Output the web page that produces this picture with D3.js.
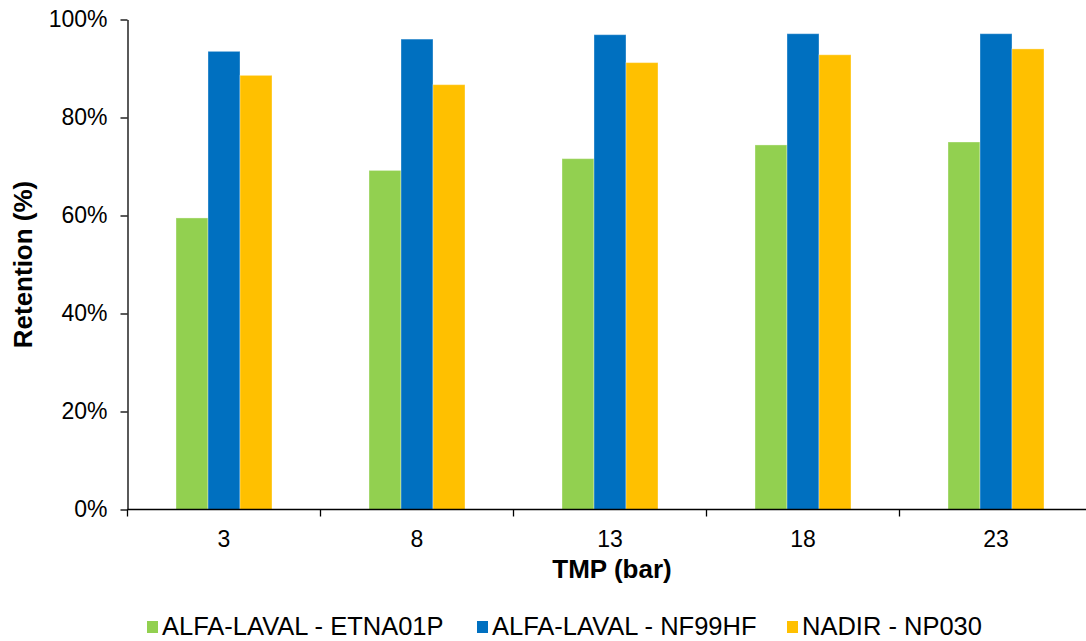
<!DOCTYPE html>
<html>
<head>
<meta charset="utf-8">
<script src="https://cdn.jsdelivr.net/npm/d3@7"></script>
<style>
  body { margin: 0; background: #fff; }
  svg { display: block; font-family: "Liberation Sans", Arial, sans-serif; }
</style>
</head>
<body>
<script>
// data
const tmp = ["3", "8", "13", "18", "23"];
const series = ["ALFA-LAVAL - ETNA01P", "ALFA-LAVAL - NF99HF", "NADIR - NP030"];
const etna01p = [0.595, 0.692, 0.716, 0.744, 0.750];
const nf99hf = [0.935, 0.960, 0.969, 0.971, 0.971];
const np030 = [0.886, 0.867, 0.912, 0.928, 0.940];
const yTicks = [0, 0.2, 0.4, 0.6, 0.8, 1.0];
const colors = ["#92D050", "#0070C0", "#FFC000"];

const values = [etna01p, nf99hf, np030];
const rows = tmp.map((t, i) => ({ tmp: t, vals: series.map((s, j) => ({ key: s, value: values[j][i] })) }));

const width = 1086;
const height = 641;
const marginLeft = 127.5;
const band = 193;
const y0 = 509.5;
const y1 = 19.5;

const svg = d3.select("body")
  .append("svg")
    .attr("width", width)
    .attr("height", height)
    .attr("viewBox", [0, 0, width, height]);

const x = d3.scaleBand()
    .domain(tmp)
    .range([marginLeft, marginLeft + band * tmp.length])
    .padding(0);

const barW = 32;
const xs = d3.scaleBand()
    .domain(series)
    .range([0, x.bandwidth()])
    .paddingInner(0)
    .paddingOuter((x.bandwidth() / barW - series.length) / 2);

const y = d3.scaleLinear()
    .domain([0, 1])
    .range([y0, y1]);

// bars
svg.append("g")
  .selectAll("g")
  .data(rows)
  .join("g")
    .attr("transform", d => `translate(${x(d.tmp)},0)`)
  .selectAll("rect")
  .data(d => d.vals)
  .join("rect")
    .attr("x", d => xs(d.key))
    .attr("y", d => y(d.value))
    .attr("width", xs.bandwidth())
    .attr("height", d => y(0) - y(d.value))
    .attr("fill", (d, i) => colors[i])
    .attr("stroke", "#ffffff")
    .attr("stroke-opacity", 0.35)
    .attr("stroke-width", 1);

// y axis
svg.append("g")
    .attr("transform", `translate(${marginLeft},0)`)
    .call(d3.axisLeft(y).tickValues(yTicks).tickFormat(d3.format(".0%")).tickSize(7).tickSizeOuter(0).tickPadding(13))
    .call(g => g.select(".domain").attr("stroke", "#000").attr("stroke-width", 1.3))
    .call(g => g.selectAll(".tick line").attr("stroke", "#000").attr("stroke-width", 1.3))
    .call(g => g.selectAll(".tick text")
        .attr("font-size", 23)
        .attr("font-family", "Liberation Sans, Arial, sans-serif")
        .attr("fill", "#000"));

// x axis: labels centered in bands, ticks on band edges
const xAxis = svg.append("g")
    .attr("transform", `translate(0,${y0})`);

xAxis.append("line")
    .attr("x1", marginLeft)
    .attr("x2", width)
    .attr("stroke", "#000")
    .attr("stroke-width", 1.3);

xAxis.selectAll(".edge")
  .data(tmp)
  .join("line")
    .attr("class", "edge")
    .attr("x1", d => x(d))
    .attr("x2", d => x(d))
    .attr("y1", 0)
    .attr("y2", 7)
    .attr("stroke", "#000")
    .attr("stroke-width", 1.3);

xAxis.selectAll(".lbl")
  .data(tmp)
  .join("text")
    .attr("class", "lbl")
    .attr("x", d => x(d) + x.bandwidth() / 2)
    .attr("y", 37)
    .attr("text-anchor", "middle")
    .attr("font-size", 23)
    .attr("fill", "#000")
    .text(d => d);

// axis titles
svg.append("text")
    .attr("x", 612)
    .attr("y", 578)
    .attr("text-anchor", "middle")
    .attr("font-size", 26)
    .attr("font-weight", "bold")
    .text("TMP (bar)");

svg.append("text")
    .attr("transform", `translate(32,${(y0 + y1) / 2}) rotate(-90)`)
    .attr("text-anchor", "middle")
    .attr("font-size", 26)
    .attr("font-weight", "bold")
    .text("Retention (%)");

// legend (fixed slots like the spreadsheet legend)
const legendX = [147, 477, 787];
const legend = svg.append("g");
series.forEach((s, i) => {
  legend.append("rect")
      .attr("x", legendX[i])
      .attr("y", 621)
      .attr("width", 11)
      .attr("height", 12)
      .attr("fill", colors[i]);
  legend.append("text")
      .attr("x", legendX[i] + 15)
      .attr("y", 635)
      .attr("font-size", 25.5)
      .attr("fill", "#000")
      .text(s);
});
</script>
</body>
</html>
